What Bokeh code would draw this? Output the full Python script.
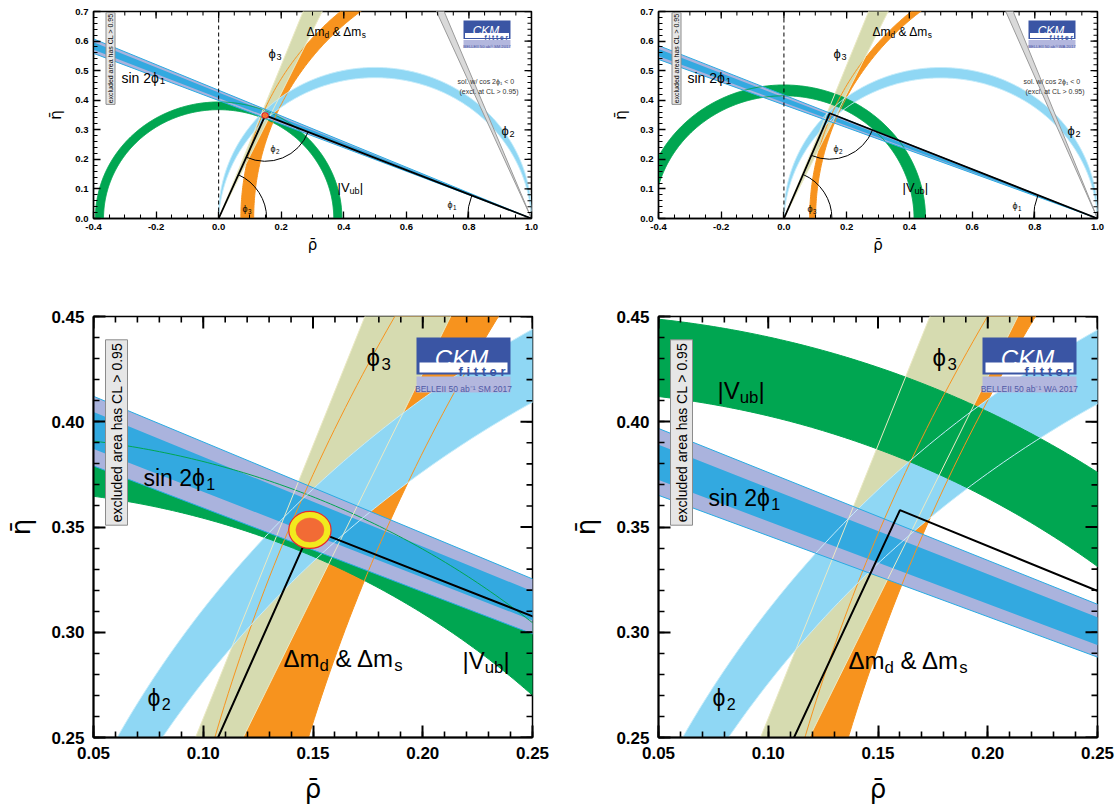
import numpy as np
from bokeh.plotting import figure
from bokeh.layouts import column, row
from bokeh.models import (Range1d, FixedTicker, PrintfTickFormatter,
                          Span, Label, BoxAnnotation)
from bokeh.embed import file_html
from bokeh.resources import INLINE
from bokeh.core.properties import value

# ---------------- values ----------------
fit_names = ["SM", "WA"]
logo_texts = ["BELLEII 50 ab\u207b\u00b9 SM 2017", "BELLEII 50 ab\u207b\u00b9 WA 2017"]
# apex of the unitarity triangle drawn in each panel (TL, TR, BL, BR)
apex_rho = {"TL": 0.149, "TR": 0.146, "BL": 0.149, "BR": 0.160}
apex_eta = {"TL": 0.349, "TR": 0.356, "BL": 0.349, "BR": 0.358}
sin2phi1_beta95 = [(21.75, 23.45), (21.02, 22.67)]   # deg  (SM, WA)
sin2phi1_beta68 = [(22.17, 23.07), (21.40, 22.27)]   # deg
vub_radius = [(0.368, 0.394), (0.415, 0.4515)]
phi2_alpha = [(88.76, 92.8), (88.8, 92.9)]          # deg
phi3_gamma = [(64.7, 68.9), (64.6, 68.9)]           # deg
dm_radius = [(0.888, 0.929), (0.899, 0.918)]
fit_rho = [0.1486]
fit_eta = [0.3486]
fit_w95 = [0.0193]
fit_h95 = [0.0176]
fit_w68 = [0.0128]
fit_h68 = [0.0114]

top_x_ticks = [-0.4, -0.2, 0.0, 0.2, 0.4, 0.6, 0.8, 1.0]
top_y_ticks = [0.0, 0.1, 0.2, 0.3, 0.4, 0.5, 0.6, 0.7]
zoom_x_ticks = [0.05, 0.10, 0.15, 0.20, 0.25]
zoom_y_ticks = [0.25, 0.30, 0.35, 0.40, 0.45]

# ---------------- styling ----------------
FONT = "Liberation Sans"
C_GREEN = "#00a651"
C_LBLUE = "#8fd7f4"
C_TAN = "#d6dbb0"
C_ORANGE = "#f7931e"
C_LAV = "#aab3dd"
C_BLUE = "#33a9e0"
C_CYAN = "#29abe2"
C_GRAY = "#d9d9d9"
C_LOGO = "#3a55a4"
C_LOGOLAV = "#b3b7de"

PANELS = {
    "TL": dict(k=0, zoom=False, fx0=93, fx1=531, fy0=11, fy1=218, xr=(-0.4, 1.0), yr=(0.0, 0.7),
               bl=93, br=12, bt=11, bb=68),
    "TR": dict(k=1, zoom=False, fx0=658, fx1=1097, fy0=11, fy1=218, xr=(-0.4, 1.0), yr=(0.0, 0.7),
               bl=115, br=20, bt=11, bb=68),
    "BL": dict(k=0, zoom=True, fx0=93, fx1=532, fy0=316, fy1=737, xr=(0.05, 0.25), yr=(0.25, 0.45),
               bl=93, br=18, bt=30, bb=70),
    "BR": dict(k=1, zoom=True, fx0=658, fx1=1097, fy0=316, fy1=737, xr=(0.05, 0.25), yr=(0.25, 0.45),
               bl=108, br=20, bt=30, bb=70),
}

# label placements (pixel left, pixel baseline, font size, parts)
SIN = [("sin 2\u03d5", 0), ("1", 1)]
PHI1 = [("\u03d5", 0), ("1", 1)]
PHI2 = [("\u03d5", 0), ("2", 1)]
PHI3 = [("\u03d5", 0), ("3", 1)]
DM = [("\u0394m", 0), ("d", 1), (" & \u0394m", 0), ("s", 1)]
VUB = [("|V", 0), ("ub", 1), ("|", 0)]
LABELS = {
    "TL": [(121, 77, 14, SIN), (268, 53, 13, PHI3), (306, 31, 12, DM), (501, 130, 13, PHI2),
           (337, 187, 13, VUB), (447, 204, 9, PHI1), (270, 148, 9, PHI2), (242, 208, 9, PHI3)],
    "TR": [(687, 77, 14, SIN), (833, 53, 13, PHI3), (872, 31, 12, DM), (1067, 130, 13, PHI2),
           (902, 187, 13, VUB), (1012, 205, 9, PHI1), (833, 148, 9, PHI2), (807, 208, 9, PHI3)],
    "BL": [(143, 477, 23, SIN), (366, 357, 24, PHI3), (283, 658, 24, DM), (462, 660, 24, VUB),
           (147, 697, 23, PHI2)],
    "BR": [(717, 390, 24, VUB), (708, 497, 23, SIN), (932, 357, 24, PHI3), (848, 660, 24, DM),
           (712, 697, 23, PHI2)],
}
EXCL = {"TL": (110, 58, 7), "TR": (676, 58, 7), "BL": (116, 432, 14), "BR": (681, 432, 14)}
LOGO = {"TL": (463, 20, 0.5), "TR": (1028, 20, 0.5), "BL": (416, 337, 1.0), "BR": (982, 337, 1.0)}
SOL = {"TL": (457, 81), "TR": (1023, 81)}

CW = {' ': 0.278, 's': 0.5, 'i': 0.222, 'n': 0.556, '2': 0.556, '1': 0.556, '3': 0.556,
      '\u03d5': 0.62, '\u0394': 0.668, 'm': 0.833, 'd': 0.556, '&': 0.667, 'V': 0.667,
      'u': 0.556, 'b': 0.556, '|': 0.26}


def tw(s, size):
    return sum(CW.get(c, 0.55) for c in s) * size


def to_data(P, px, py):
    x = P["xr"][0] + (px - P["fx0"]) / (P["fx1"] - P["fx0"]) * (P["xr"][1] - P["xr"][0])
    y = P["yr"][1] - (py - P["fy0"]) / (P["fy1"] - P["fy0"]) * (P["yr"][1] - P["yr"][0])
    return x, y


def arc_pts(cx, cy, r, t0, t1, n=500):
    t = np.linspace(t0, t1, n)
    return cx + r * np.cos(t), cy + r * np.sin(t)


def alpha_arc(a_deg):
    a = np.radians(a_deg)
    k = 0.5 / np.tan(a)
    R = 0.5 / np.sin(a)
    t0 = np.arctan2(-k, 0.5)
    return arc_pts(0.5, k, R, t0, np.pi - t0)


def wedge(cx, cy, a1, a2, L=3.0):
    xs, ys = arc_pts(cx, cy, L, a1, a2, 100)
    return np.concatenate([[cx], xs]), np.concatenate([[cy], ys])


def ray(cx, cy, a, L=3.0):
    return [cx, cx + L * np.cos(a)], [cy, cy + L * np.sin(a)]


def annulus(cx, r1, r2):
    xo, yo = arc_pts(cx, 0, r2, 0, np.pi)
    xi, yi = arc_pts(cx, 0, r1, np.pi, 0)
    return np.concatenate([xo, xi]), np.concatenate([yo, yi])


def conf_axis(ax, ticker, fmt, fs, tin, minin, lw, standoff):
    ax.ticker = ticker
    ax.formatter = PrintfTickFormatter(format=fmt)
    ax.major_tick_in = tin
    ax.major_tick_out = 0
    ax.minor_tick_in = minin
    ax.minor_tick_out = 0
    ax.axis_line_width = lw
    ax.axis_line_color = "black"
    ax.major_tick_line_width = lw
    ax.minor_tick_line_width = lw * 0.8
    ax.major_tick_line_color = "black"
    ax.minor_tick_line_color = "black"
    ax.major_label_text_font = FONT
    ax.major_label_text_font_style = "bold"
    ax.major_label_text_color = "black"
    ax.major_label_text_font_size = f"{fs}px"
    ax.major_label_standoff = standoff


def make_panel(name):
    P = PANELS[name]
    k = P["k"]
    zoom = P["zoom"]
    fw = P["fx1"] - P["fx0"]
    fh = P["fy1"] - P["fy0"]
    sx = fw / (P["xr"][1] - P["xr"][0])
    sy = fh / (P["yr"][1] - P["yr"][0])
    p = figure(frame_width=fw, frame_height=fh, x_range=Range1d(*P["xr"]), y_range=Range1d(*P["yr"]),
               output_backend="svg", toolbar_location=None,
               min_border_left=P["bl"], min_border_right=P["br"],
               min_border_top=P["bt"], min_border_bottom=P["bb"])
    p.grid.visible = False
    p.outline_line_color = "black"
    p.outline_line_width = 1.5
    p.background_fill_color = "white"
    p.border_fill_color = "white"

    # ---- axes ----
    if zoom:
        xmaj, ymaj = zoom_x_ticks, zoom_y_ticks
        xmin = list(np.round(np.arange(0.05, 0.2501, 0.01), 3))
        ymin = list(np.round(np.arange(0.25, 0.4501, 0.01), 3))
        fmt, fs, tin, minin, lw, sto = "%.2f", 17, 12, 6, 2, 9
    else:
        xmaj, ymaj = top_x_ticks, top_y_ticks
        xmin = list(np.round(np.arange(-0.4, 1.0001, 0.05), 3))
        ymin = list(np.round(np.arange(0.0, 0.7001, 0.02), 3))
        fmt, fs, tin, minin, lw, sto = "%.1f", 9.5, 7, 4, 1.3, 5
    conf_axis(p.xaxis[0], FixedTicker(ticks=xmaj, minor_ticks=xmin), fmt, fs, tin, minin, lw, sto)
    conf_axis(p.yaxis[0], FixedTicker(ticks=ymaj, minor_ticks=ymin), fmt, fs, tin, minin, lw, sto)
    p.xaxis[0].axis_label = "\u03c1\u0304"
    p.yaxis[0].axis_label = "\u03b7\u0304"
    for ax, st in ((p.xaxis[0], 12 if zoom else 3), (p.yaxis[0], 12 if zoom else 7)):
        ax.axis_label_text_font = "DejaVu Sans"
        ax.axis_label_text_font_style = "normal"
        ax.axis_label_text_font_size = "26px" if zoom else "15px"
        ax.axis_label_text_color = "black"
        ax.axis_label_standoff = st

    # ---- constraint bands ----
    r1, r2 = dm_radius[k]
    xs, ys = annulus(1.0, r1, r2)
    p.patch(xs, ys, fill_color=C_ORANGE, line_color=None)

    g1, g2 = np.radians(phi3_gamma[k])
    xs, ys = wedge(0.0, 0.0, g1, g2)
    p.patch(xs, ys, fill_color=C_TAN, line_color=None)

    a_lo, a_hi = phi2_alpha[k]
    xo, yo = alpha_arc(a_lo)
    xi, yi = alpha_arc(a_hi)
    p.patch(np.concatenate([xo, xi[::-1]]), np.concatenate([yo, yi[::-1]]), fill_color=C_LBLUE, line_color=None)

    v1, v2 = vub_radius[k]
    xs, ys = annulus(0.0, v1, v2)
    p.patch(xs, ys, fill_color=C_GREEN, line_color=None)

    b1, b2 = np.radians(sin2phi1_beta95[k])
    xs, ys = wedge(1.0, 0.0, np.pi / 2 + b1, np.pi / 2 + b2)
    p.patch(xs, ys, fill_color=C_GRAY, line_color=None)
    xs, ys = wedge(1.0, 0.0, np.pi - b2, np.pi - b1)
    p.patch(xs, ys, fill_color=C_LAV, line_color=None)
    c1, c2 = np.radians(sin2phi1_beta68[k])
    xs, ys = wedge(1.0, 0.0, np.pi - c2, np.pi - c1)
    p.patch(xs, ys, fill_color=C_BLUE, line_color=None)

    # ---- band edges ----
    ew = 1.0
    for r in (v1, v2):
        x, y = arc_pts(0.0, 0.0, r, 0, np.pi)
        p.line(x, y, line_color=C_GREEN, line_width=ew)
    for r in (r1, r2):
        x, y = arc_pts(1.0, 0.0, r, 0, np.pi)
        p.line(x, y, line_color=C_ORANGE, line_width=ew)
    for g in (g1, g2):
        x, y = ray(0.0, 0.0, g)
        p.line(x, y, line_color="#ebe9c4", line_width=ew)
    for a in (a_lo, a_hi):
        x, y = alpha_arc(a)
        p.line(x, y, line_color="#c6ecfa", line_width=ew)
    for b in (b1, b2):
        x, y = ray(1.0, 0.0, np.pi / 2 + b)
        p.line(x, y, line_color="#9a9a9a", line_width=ew)
        x, y = ray(1.0, 0.0, np.pi - b)
        p.line(x, y, line_color=C_CYAN, line_width=ew)

    # ---- triangle ----
    ar, ae = apex_rho[name], apex_eta[name]
    if not zoom:
        p.add_layout(Span(location=0, dimension="height", line_color="black", line_dash="4 3", line_width=1))
    p.line([0.0, ar, 1.0], [0.0, ae, 0.0], line_color="black", line_width=2 if zoom else 1.8)

    if not zoom:
        a_org = np.arctan2(ae * sy, ar * sx)
        p.arc(x=[0.0], y=[0.0], radius=48, radius_units="screen", start_angle=0.0, end_angle=a_org,
              line_color="black", line_width=1)
        a_to0 = np.arctan2(-ae * sy, -ar * sx)
        a_to1 = np.arctan2(-ae * sy, (1 - ar) * sx)
        p.arc(x=[ar], y=[ae], radius=46, radius_units="screen", start_angle=a_to0, end_angle=a_to1,
              line_color="black", line_width=1)
        a_1 = np.arctan2(ae * sy, -(1 - ar) * sx)
        p.arc(x=[1.0], y=[0.0], radius=64, radius_units="screen", start_angle=a_1, end_angle=np.pi,
              line_color="black", line_width=1)

    # ---- fit result ----
    if k == 0:
        p.ellipse(x=fit_rho, y=fit_eta, width=fit_w95, height=fit_h95, fill_color="#f2ea1d",
                  line_color="#e8282d", line_width=1.2)
        p.ellipse(x=fit_rho, y=fit_eta, width=fit_w68, height=fit_h68, fill_color="#f26b35",
                  line_color="#f26b35", line_width=0.5)

    # ---- mirrored ticks on top and right edges ----
    x1, y1 = P["xr"][1], P["yr"][1]
    for ticks, ln, w in ((xmaj, tin, lw), (xmin, minin, lw * 0.8)):
        p.segment(x0=ticks, y0=[y1] * len(ticks), x1=ticks, y1=[y1 - ln / sy] * len(ticks),
                  line_color="black", line_width=w)
    for ticks, ln, w in ((ymaj, tin, lw), (ymin, minin, lw * 0.8)):
        p.segment(x0=[x1] * len(ticks), y0=ticks, x1=[x1 - ln / sx] * len(ticks), y1=ticks,
                  line_color="black", line_width=w)

    # ---- labels ----
    for (px, py, size, parts) in LABELS[name]:
        x = px
        for txt, sub in parts:
            fsz = size * 0.7 if sub else size
            dy = size * 0.28 if sub else 0
            if txt.startswith(" "):
                x += tw(" ", fsz)
                txt = txt.lstrip(" ")
            xd, yd = to_data(P, x, py + dy)
            p.text(x=[xd], y=[yd], text=[txt], text_font=value(FONT), text_font_size=f"{fsz:.1f}px",
                   text_align="left", text_baseline="alphabetic", text_color="black")
            x += tw(txt, fsz)

    if name in SOL:
        sxp, syp = SOL[name]
        for i, t in enumerate(["sol. w/ cos 2\u03d5\u2081 < 0", "(excl. at CL > 0.95)"]):
            xd, yd = to_data(P, sxp + 2 * i, syp + 10 * i)
            p.add_layout(Label(x=xd, y=yd, text=t, text_font=FONT, text_font_size="7px",
                               text_color="#333333", text_align="left", text_baseline="alphabetic"))

    ex, ey, efs = EXCL[name]
    xd, yd = to_data(P, ex, ey)
    p.add_layout(Label(x=xd, y=yd, text="excluded area has CL > 0.95", angle=90, angle_units="deg",
                       text_font=FONT, text_font_size=f"{efs}px", text_color="black",
                       text_align="center", text_baseline="middle",
                       background_fill_color="#e6e6e6", border_line_color="#8c8c8c",
                       border_line_width=1, padding=3 if efs > 10 else 1))

    # ---- CKMfitter logo ----
    lx, ly, s = LOGO[name]

    def box(x0, y0, x1_, y1_, color):
        l, t = to_data(P, x0, y0)
        r, b = to_data(P, x1_, y1_)
        p.add_layout(BoxAnnotation(left=l, right=r, top=t, bottom=b, fill_color=color,
                                   fill_alpha=1.0, line_color=None))

    box(lx, ly, lx + 94 * s, ly + 37 * s, C_LOGO)
    box(lx + 3 * s, ly + 25 * s, lx + 91 * s, ly + 35 * s, "white")
    box(lx, ly + 39 * s, lx + 94 * s, ly + 55 * s, C_LOGOLAV)
    xd, yd = to_data(P, lx + 45 * s, ly + 21 * s)
    p.add_layout(Label(x=xd, y=yd, text="CKM", text_font=FONT, text_font_style="italic",
                       text_font_size=f"{24 * s:.1f}px", text_color="white",
                       text_align="center", text_baseline="alphabetic"))
    xd, yd = to_data(P, lx + 89 * s, ly + 34 * s)
    p.add_layout(Label(x=xd, y=yd, text="f i t t e r", text_font=FONT, text_font_style="bold",
                       text_font_size=f"{13 * s:.1f}px", text_color=C_LOGO,
                       text_align="right", text_baseline="alphabetic"))
    xd, yd = to_data(P, lx + 47 * s, ly + 51 * s)
    p.add_layout(Label(x=xd, y=yd, text=logo_texts[k], text_font=FONT,
                       text_font_size=f"{8.5 * s:.1f}px", text_color="#4f5aa6",
                       text_align="center", text_baseline="alphabetic"))
    return p


tl = make_panel("TL")
tr = make_panel("TR")
bl = make_panel("BL")
br = make_panel("BR")
layout = column(row(tl, tr), row(bl, br))
open("out.html", "w").write(file_html(layout, INLINE))
